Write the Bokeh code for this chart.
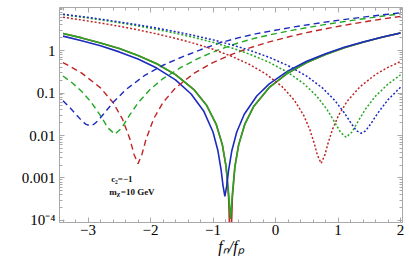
from bokeh.plotting import figure
from bokeh.models import Range1d, LogAxis, LinearAxis, FixedTicker, Label
from bokeh.embed import file_html
from bokeh.resources import INLINE

# ---------------- data ----------------
x_solid_blue = [-3.4, -3.1, -2.8, -2.5, -2.2, -1.9, -1.6, -1.35, -1.15, -1.0, -0.92, -0.87, -0.84, -0.81,
                -0.78, -0.75, -0.70, -0.62, -0.5, -0.3, -0.1, 0.2, 0.5, 0.8, 1.1, 1.4, 1.7, 2.0]
y_solid_blue = [2.18, 1.70, 1.29, 0.928, 0.628, 0.386, 0.203, 0.0948, 0.0379, 0.0121, 0.0043, 0.00154, 0.000663, 0.000371,
                0.000663, 0.00154, 0.0043, 0.0121, 0.0316, 0.0849, 0.164, 0.332, 0.558, 0.842, 1.19, 1.59, 2.05, 2.57]

x_solid_green = [-3.4, -3.1, -2.8, -2.5, -2.2, -1.9, -1.6, -1.3, -1.1, -0.95, -0.85, -0.79, -0.75, -0.72,
                 -0.69, -0.65, -0.59, -0.49, -0.35, -0.1, 0.2, 0.5, 0.8, 1.1, 1.4, 1.7, 2.0]
y_solid_green = [2.51, 1.98, 1.51, 1.11, 0.767, 0.487, 0.271, 0.118, 0.0506, 0.0186, 0.00602, 0.00182, 0.000424, 0.000109,
                 0.000424, 0.00182, 0.00602, 0.0186, 0.048, 0.135, 0.296, 0.521, 0.809, 1.16, 1.57, 2.05, 2.59]

x_solid_red = [-3.4, -3.1, -2.8, -2.5, -2.2, -1.9, -1.6, -1.3, -1.1, -0.95, -0.85, -0.79, -0.75, -0.72,
               -0.69, -0.65, -0.59, -0.49, -0.35, -0.1, 0.2, 0.5, 0.8, 1.1, 1.4, 1.7, 2.0]
y_solid_red = [2.51, 1.98, 1.51, 1.11, 0.767, 0.487, 0.271, 0.118, 0.0506, 0.0186, 0.00602, 0.00182, 0.00035, 0.000015,
               0.00035, 0.00182, 0.00602, 0.0186, 0.048, 0.135, 0.296, 0.521, 0.809, 1.16, 1.57, 2.05, 2.59]

x_dash_blue = [-3.4, -3.3, -3.2, -3.1, -3.03, -2.97, -2.91, -2.84, -2.75, -2.6, -2.4, -2.1, -1.8, -1.5,
               -1.2, -0.9, -0.6, -0.3, 0.0, 0.3, 0.6, 0.9, 1.2, 1.5, 1.8, 2.0]
y_dash_blue = [0.066, 0.047, 0.0325, 0.0222, 0.0182, 0.0171, 0.0182, 0.0223, 0.0321, 0.0595, 0.118, 0.255, 0.45, 0.70,
               1.04, 1.5, 1.98, 2.5, 3.0, 3.6, 4.2, 4.9, 5.6, 6.35, 7.15, 7.7]

x_dash_green = [-3.4, -3.25, -3.1, -2.95, -2.8, -2.68, -2.57, -2.46, -2.34, -2.2, -2.0, -1.8, -1.5,
                -1.2, -0.9, -0.6, -0.3, 0.0, 0.3, 0.6, 0.9, 1.2, 1.5, 1.8, 2.0]
y_dash_green = [0.251, 0.172, 0.109, 0.0612, 0.0293, 0.015, 0.0108, 0.015, 0.0293, 0.0586, 0.124, 0.218, 0.41,
                0.69, 1.05, 1.5, 2.0, 2.5, 3.05, 3.65, 4.33, 5.05, 5.85, 6.7, 7.3]

x_dash_red = [-3.4, -3.1, -2.8, -2.6, -2.45, -2.33, -2.26, -2.2, -2.14, -2.07, -1.95, -1.8, -1.6,
              -1.3, -1.0, -0.7, -0.4, -0.1, 0.2, 0.5, 0.8, 1.1, 1.4, 1.7, 2.0]
y_dash_red = [0.521, 0.294, 0.132, 0.0598, 0.0247, 0.00827, 0.00348, 0.00218, 0.00348, 0.00827, 0.0247, 0.0598, 0.132,
              0.294, 0.521, 0.812, 1.17, 1.59, 2.08, 2.63, 3.24, 3.92, 4.67, 5.48, 6.35]

x_dot_blue = [-3.4, -3.1, -2.8, -2.5, -2.2, -1.9, -1.6, -1.3, -1.0, -0.7, -0.4, -0.1, 0.2, 0.5,
              0.75, 0.95, 1.1, 1.22, 1.3, 1.37, 1.44, 1.52, 1.64, 1.8, 2.0]
y_dot_blue = [7.16, 6.29, 5.47, 4.71, 4.01, 3.37, 2.78, 2.25, 1.78, 1.36, 0.995, 0.69, 0.441, 0.249,
              0.132, 0.0667, 0.0342, 0.0184, 0.0128, 0.0113, 0.0128, 0.0184, 0.0342, 0.0694, 0.136]

x_dot_green = [-3.4, -3.1, -2.8, -2.5, -2.2, -1.9, -1.6, -1.3, -1.0, -0.7, -0.4, -0.1, 0.2, 0.45,
               0.65, 0.82, 0.95, 1.04, 1.13, 1.22, 1.31, 1.44, 1.6, 1.8, 2.0]
y_dot_green = [7.01, 6.11, 5.28, 4.50, 3.79, 3.14, 2.55, 2.02, 1.56, 1.15, 0.807, 0.525, 0.304, 0.167,
               0.0877, 0.0419, 0.0202, 0.0119, 0.0091, 0.0119, 0.0202, 0.0419, 0.0844, 0.162, 0.267]

x_dot_red = [-3.4, -3.1, -2.8, -2.5, -2.2, -1.9, -1.6, -1.3, -1.0, -0.7, -0.4, -0.15, 0.1, 0.3,
             0.45, 0.55, 0.62, 0.67, 0.73, 0.79, 0.84, 0.91, 1.01, 1.15, 1.35, 1.6, 1.8, 2.0]
y_dot_red = [6.07, 5.22, 4.44, 3.72, 3.06, 2.46, 1.93, 1.47, 1.07, 0.73, 0.457, 0.278, 0.144, 0.068,
             0.0301, 0.0137, 0.00651, 0.00349, 0.00221, 0.00349, 0.00651, 0.0137, 0.0301, 0.065, 0.139, 0.272, 0.40, 0.55]

x_ticks = [-3, -2, -1, 0, 1, 2]
x_tick_labels = ["\u22123", "\u22122", "\u22121", "0", "1", "2"]
y_ticks = [1e-4, 1e-3, 1e-2, 1e-1, 1.0]
y_tick_labels = ["10\u207b\u2074", "0.001", "0.01", "0.1", "1"]

annot_c2 = "c\u2082=\u22121"
annot_m = "m"
annot_chi = "\u03c7"
annot_mass = "=10 GeV"
x_label = "f\u2099/f\u209a"

# ---------------- styling ----------------
BLUE = "#1c2bbf"
GREEN = "#22a822"
RED = "#bf2424"
FRAME = "#a8a8a8"
SERIF = "Liberation Serif"

p = figure(width=409, height=262, y_axis_type="log",
           x_range=Range1d(-3.456, 2.032), y_range=Range1d(8.97e-5, 10.28),
           output_backend="svg", toolbar_location=None,
           min_border_left=59, min_border_right=7, min_border_top=7, min_border_bottom=40)
p.xgrid.visible = False
p.ygrid.visible = False
p.outline_line_color = None
p.background_fill_color = "white"
p.border_fill_color = "white"

x_minor = [round(-3.4 + 0.2 * i, 2) for i in range(28)]
y_minor = [m * 10.0 ** e for e in range(-5, 1) for m in range(2, 10)] + [10.0]

xt = FixedTicker(ticks=x_ticks, minor_ticks=x_minor)
yt = FixedTicker(ticks=y_ticks, minor_ticks=y_minor)


def style_axis(ax, labels):
    ax.axis_line_color = FRAME
    ax.axis_line_width = 1
    ax.major_tick_line_color = FRAME
    ax.minor_tick_line_color = FRAME
    ax.major_tick_in = 5
    ax.major_tick_out = 0
    ax.minor_tick_in = 3
    ax.minor_tick_out = 0
    ax.major_label_text_font = SERIF
    if labels:
        ax.major_label_text_font_size = "15px"
        ax.major_label_text_color = "black"
    else:
        ax.major_label_text_font_size = "1px"
        ax.major_label_text_alpha = 0
        ax.major_label_standoff = 0


xa = p.xaxis[0]
xa.ticker = xt
xa.major_label_overrides = dict(zip(x_ticks, x_tick_labels))
xa.major_label_standoff = 2
style_axis(xa, True)
xa.axis_label = x_label
xa.axis_label_text_font = SERIF
xa.axis_label_text_font_style = "italic"
xa.axis_label_text_font_size = "16px"
xa.axis_label_text_color = "black"
xa.axis_label_standoff = 0

ya = p.yaxis[0]
ya.ticker = yt
ya.major_label_overrides = dict(zip(y_ticks, y_tick_labels))
ya.major_label_standoff = 4
style_axis(ya, True)

ra = LogAxis(ticker=yt, major_label_overrides={t: " " for t in y_ticks})
style_axis(ra, False)
p.add_layout(ra, "right")
ta = LinearAxis(ticker=xt, major_label_overrides={t: " " for t in x_ticks})
style_axis(ta, False)
p.add_layout(ta, "above")

# curves: solid, then dashed, then dotted
p.line(x_solid_red, y_solid_red, line_color=RED, line_width=1.6)
p.line(x_solid_green, y_solid_green, line_color=GREEN, line_width=1.6)
p.line(x_solid_blue, y_solid_blue, line_color=BLUE, line_width=1.6)

p.line(x_dash_red, y_dash_red, line_color=RED, line_width=1.4, line_dash="6 4")
p.line(x_dash_green, y_dash_green, line_color=GREEN, line_width=1.4, line_dash="6 4")
p.line(x_dash_blue, y_dash_blue, line_color=BLUE, line_width=1.4, line_dash="6 4")

p.line(x_dot_red, y_dot_red, line_color=RED, line_width=1.5, line_dash="2 2")
p.line(x_dot_green, y_dot_green, line_color=GREEN, line_width=1.5, line_dash="2 2")
p.line(x_dot_blue, y_dot_blue, line_color=BLUE, line_width=1.5, line_dash="2 2")

# annotations
p.add_layout(Label(x=-2.63, y=9.7e-4, text=annot_c2, text_font=SERIF, text_font_style="bold",
                   text_font_size="9px", text_baseline="middle", text_align="left", text_color="#111111"))
p.add_layout(Label(x=-2.66, y=4.6e-4, text=annot_m, text_font=SERIF, text_font_style="bold",
                   text_font_size="9px", text_baseline="middle", text_align="left", text_color="#111111"))
p.add_layout(Label(x=-2.66, y=4.6e-4, x_offset=7.5, y_offset=-2, text=annot_chi, text_font=SERIF,
                   text_font_style="bold", text_font_size="7px", text_baseline="middle", text_align="left",
                   text_color="#111111"))
p.add_layout(Label(x=-2.66, y=4.6e-4, x_offset=11.5, text=annot_mass, text_font=SERIF, text_font_style="bold",
                   text_font_size="9px", text_baseline="middle", text_align="left", text_color="#111111"))

open("out.html", "w").write(file_html(p, INLINE))
